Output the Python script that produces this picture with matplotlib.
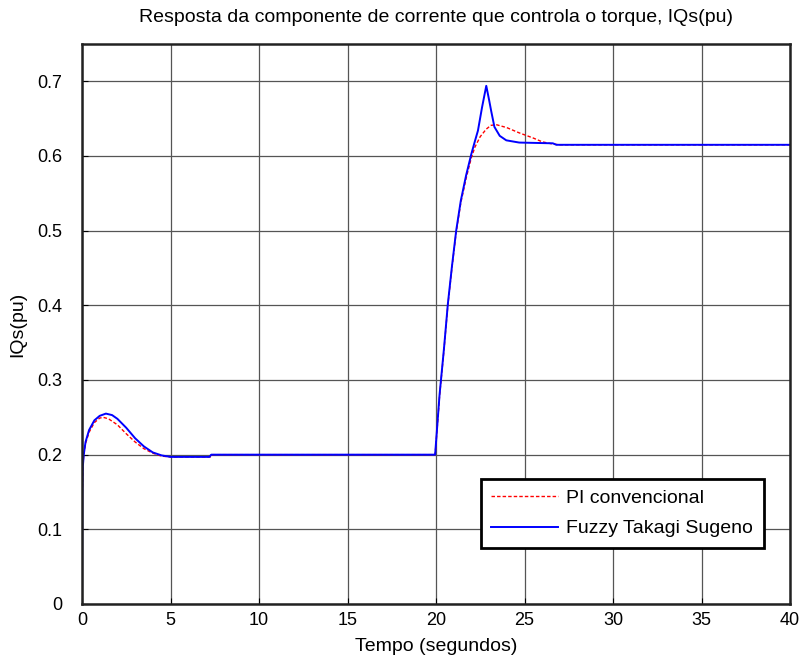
import matplotlib
matplotlib.use("Agg")
import matplotlib.pyplot as plt

plt.rcParams['font.family'] = ['Liberation Sans', 'DejaVu Sans']

# PI convencional response
t_pi = [0, 0.02, 0.05, 0.1, 0.2, 0.4, 0.7, 1.0, 1.2, 1.5, 2.0, 2.5, 3.0, 3.5,
        4.0, 4.5, 5.0, 7.3, 7.4, 19.95, 20.05, 20.2, 20.45, 20.67, 20.9, 21.14,
        21.4, 21.7, 22.0, 22.2, 22.5, 22.84, 23.1, 23.4, 24.0, 24.7, 25.5,
        26.0, 26.6, 27.0, 40.0]
iq_pi = [0, 0.15, 0.185, 0.2, 0.215, 0.23, 0.243, 0.249, 0.25, 0.248, 0.24,
         0.228, 0.217, 0.208, 0.202, 0.198, 0.197, 0.197, 0.2, 0.2, 0.23,
         0.278, 0.34, 0.4, 0.45, 0.498, 0.537, 0.57, 0.598, 0.612, 0.626,
         0.636, 0.641, 0.642, 0.638, 0.631, 0.624, 0.619, 0.616, 0.615, 0.615]

# Fuzzy Takagi Sugeno response
t_fz = [0, 0.02, 0.05, 0.1, 0.2, 0.4, 0.7, 1.0, 1.35, 1.7, 2.0, 2.5, 3.0, 3.5,
        4.0, 4.5, 5.0, 7.2, 7.3, 19.95, 20.05, 20.2, 20.45, 20.67, 20.9, 21.14,
        21.4, 21.7, 22.0, 22.2, 22.37, 22.6, 22.84, 23.0, 23.12, 23.3, 23.6,
        23.97, 24.7, 26.6, 26.8, 40.0]
iq_fz = [0, 0.15, 0.185, 0.2, 0.217, 0.233, 0.246, 0.252, 0.255, 0.253, 0.248,
         0.236, 0.222, 0.211, 0.203, 0.199, 0.197, 0.197, 0.2, 0.2, 0.232,
         0.28, 0.342, 0.402, 0.452, 0.5, 0.54, 0.574, 0.603, 0.62, 0.634,
         0.665, 0.694, 0.675, 0.66, 0.639, 0.627, 0.621, 0.618, 0.617, 0.615,
         0.615]

x_ticks = [0, 5, 10, 15, 20, 25, 30, 35, 40]
y_ticks = [0, 0.1, 0.2, 0.3, 0.4, 0.5, 0.6, 0.7]

fig = plt.figure(figsize=(8.03, 6.62), dpi=100)
ax = fig.add_axes([82 / 803, 1 - 604 / 662, (790 - 82) / 803, (604 - 44) / 662])

ax.plot(t_pi, iq_pi, 'r--', lw=1.0, dashes=(2.5, 1.5), label='PI convencional')
ax.plot(t_fz, iq_fz, 'b-', lw=1.4, label='Fuzzy Takagi Sugeno')

ax.set_xlim(0, 40)
ax.set_ylim(0, 0.75)
ax.set_xticks(x_ticks)
ax.set_yticks(y_ticks)
ax.set_xticklabels([str(v) for v in x_ticks])
ax.set_yticklabels(['0'] + [f'{v:.1f}' for v in y_ticks[1:]])
ax.grid(True, color='#555555', lw=0.9, ls='-')
ax.tick_params(direction='in', labelsize=13, length=4, color='black')
ax.tick_params(axis='y', pad=14)
ax.tick_params(axis='x', pad=6)
for s in ax.spines.values():
    s.set_linewidth(1.8)
    s.set_color('#222222')

ax.set_xlabel('Tempo (segundos)', fontsize=14, labelpad=6)
ax.set_ylabel('IQs(pu)', fontsize=14, labelpad=8)
ax.set_title('Resposta da componente de corrente que controla o torque, IQs(pu)',
             fontsize=14, pad=16)

leg = ax.legend(loc='lower right', bbox_to_anchor=(0.963, 0.1), fontsize=14,
                fancybox=False, framealpha=1, edgecolor='black',
                handlelength=3.45, handletextpad=0.4, borderpad=0.55,
                labelspacing=0.64, borderaxespad=0)
leg.get_frame().set_linewidth(2.0)

fig.savefig('out.png', dpi=100)
